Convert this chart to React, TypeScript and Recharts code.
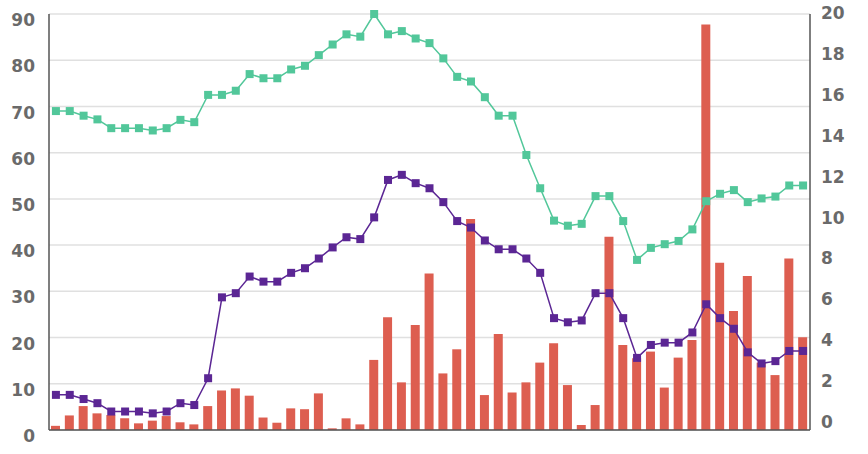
import { ComposedChart, Bar, Line, XAxis, YAxis, CartesianGrid } from 'recharts';

const days = [
  'd01', 'd02', 'd03', 'd04', 'd05', 'd06', 'd07', 'd08', 'd09', 'd10',
  'd11', 'd12', 'd13', 'd14', 'd15', 'd16', 'd17', 'd18', 'd19', 'd20',
  'd21', 'd22', 'd23', 'd24', 'd25', 'd26', 'd27', 'd28', 'd29', 'd30',
  'd31', 'd32', 'd33', 'd34', 'd35', 'd36', 'd37', 'd38', 'd39', 'd40',
  'd41', 'd42', 'd43', 'd44', 'd45', 'd46', 'd47', 'd48', 'd49', 'd50',
  'd51', 'd52', 'd53', 'd54', 'd55',
];

// left axis
const green = [
  69, 69, 68, 67.2, 65.3, 65.3, 65.3, 64.8, 65.3, 67.1,
  66.6, 72.5, 72.5, 73.4, 77, 76.1, 76.1, 78, 78.8, 81.1,
  83.4, 85.6, 85.1, 90, 85.6, 86.3, 84.7, 83.7, 80.4, 76.4,
  75.4, 72, 68, 68, 59.5, 52.3, 45.3, 44.2, 44.6, 50.6,
  50.6, 45.2, 36.8, 39.4, 40.2, 40.9, 43.4, 49.5, 51.1, 51.9,
  49.3, 50.1, 50.5, 52.9, 52.9,
];

const purple = [
  7.6, 7.6, 6.7, 5.8, 4, 4, 4, 3.6, 4, 5.8,
  5.4, 11.2, 28.7, 29.6, 33.2, 32.1, 32.1, 34, 35, 37.1,
  39.5, 41.7, 41.3, 46, 54.1, 55.2, 53.4, 52.3, 49.3, 45.2,
  43.8, 41, 39.1, 39.1, 37.1, 34, 24.2, 23.3, 23.7, 29.6,
  29.6, 24.2, 15.6, 18.4, 18.9, 18.9, 21.1, 27.2, 24.2, 21.9,
  16.8, 14.4, 14.9, 17.1, 17.1,
];

// right axis
const bars = [
  0.2, 0.7, 1.15, 0.8, 0.72, 0.56, 0.32, 0.45, 0.67, 0.37,
  0.27, 1.15, 1.9, 2, 1.65, 0.6, 0.35, 1.04, 1, 1.76,
  0.08, 0.56, 0.27, 3.37, 5.42, 2.29, 5.05, 7.53, 2.72, 3.88,
  10.14, 1.68, 4.62, 1.8, 2.29, 3.24, 4.17, 2.16, 0.24, 1.2,
  9.29, 4.09, 3.45, 3.77, 2.04, 3.48, 4.33, 19.5, 8.04, 5.72,
  7.4, 3.24, 2.64, 8.25, 4.46,
];

const leftTicks = [0, 10, 20, 30, 40, 50, 60, 70, 80, 90];
const rightTicks = [0, 2, 4, 6, 8, 10, 12, 14, 16, 18, 20];

const data = days.map((day, i) => ({
  day,
  green: green[i],
  purple: purple[i],
  bars: bars[i],
}));

const tickStyle = {
  fontFamily: 'DejaVu Sans',
  fontWeight: 700,
  fontSize: 17,
  fill: '#6a6a6a',
};

const LeftTick = ({ x, y, payload }: any) => (
  <text x={x} y={y + 6} dy="0.36em" textAnchor="end" style={tickStyle}>
    {payload.value}
  </text>
);

const RightTick = ({ x, y, payload }: any) => (
  <text x={x} y={y - 8.3 + payload.value * 0.38} dy="0.36em" textAnchor="start" style={tickStyle}>
    {payload.value}
  </text>
);

const square = (color: string) => (props: any) => {
  const { cx, cy, index } = props;
  if (cx == null || cy == null) return <g key={index} />;
  return <rect key={index} x={cx - 4} y={cy - 4} width={8} height={8} fill={color} />;
};

export default function App() {
  return (
    <div style={{ position: 'absolute', left: 0, top: 0, width: 868, height: 454, background: '#fff' }}>
      <ComposedChart width={868} height={454} data={data} margin={{ top: 14, right: 0, bottom: 0, left: 0 }}>
        <CartesianGrid yAxisId="left" vertical={false} stroke="#e0e0e0" strokeWidth={1.5} />
        <XAxis
          dataKey="day"
          height={24}
          tick={false}
          tickLine={false}
          axisLine={{ stroke: '#555', strokeWidth: 1.5 }}
        />
        <YAxis
          yAxisId="left"
          width={49}
          domain={[0, 90]}
          ticks={leftTicks}
          tickSize={0}
          tickMargin={14}
          tickLine={false}
          axisLine={{ stroke: '#555', strokeWidth: 1.5 }}
          tick={<LeftTick />}
        />
        <YAxis
          yAxisId="right"
          orientation="right"
          width={58}
          domain={[0, 20]}
          ticks={rightTicks}
          tickSize={0}
          tickMargin={11}
          tickLine={false}
          axisLine={{ stroke: '#555', strokeWidth: 1.5 }}
          tick={<RightTick />}
        />
        <Bar yAxisId="right" dataKey="bars" fill="#dd5e50" barSize={9} isAnimationActive={false} />
        <Line
          yAxisId="left"
          dataKey="green"
          stroke="#52c79a"
          strokeWidth={1.5}
          dot={square('#52c79a')}
          activeDot={false}
          isAnimationActive={false}
        />
        <Line
          yAxisId="left"
          dataKey="purple"
          stroke="#5b2694"
          strokeWidth={1.5}
          dot={square('#5b2694')}
          activeDot={false}
          isAnimationActive={false}
        />
      </ComposedChart>
    </div>
  );
}
